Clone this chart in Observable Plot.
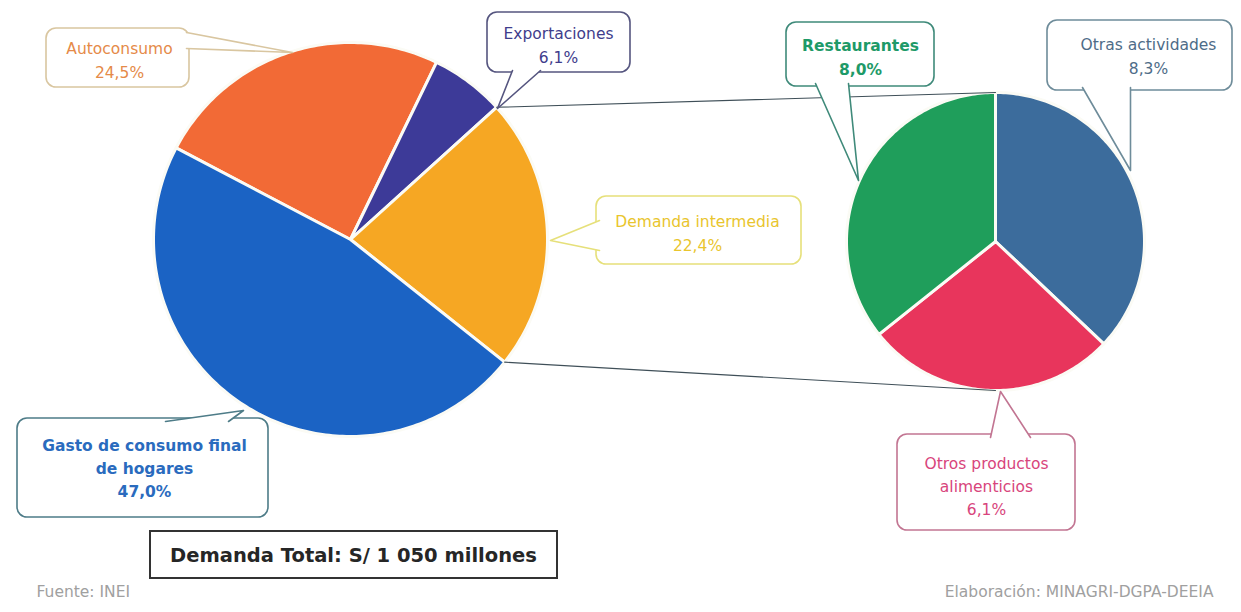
<!DOCTYPE html>
<html>
<head>
<meta charset="utf-8">
<script src="https://cdn.jsdelivr.net/npm/d3@7"></script>
<script src="https://cdn.jsdelivr.net/npm/@observablehq/plot@0.6"></script>
<style>
  html, body { margin: 0; padding: 0; background: #fff; }
  #chart svg { display: block; }
</style>
</head>
<body>
<div id="chart"></div>
<script>
// ---- Data ----
const mainCategories = ["Autoconsumo", "Exportaciones", "Demanda intermedia", "Gasto de consumo final de hogares"];
const mainLabels = ["Autoconsumo", "Exportaciones", "Demanda intermedia", "Gasto de consumo final\nde hogares"];
const mainValues = [24.5, 6.1, 22.4, 47.0];

const subCategories = ["Otras actividades", "Otros productos alimenticios", "Restaurantes"];
const subLabels = ["Otras actividades", "Otros productos\nalimenticios", "Restaurantes"];
const subValues = [8.3, 6.1, 8.0];

const totalLabel = "Demanda Total: S/ 1 050 millones";
const sourceText = "Fuente: INEI";
const creditText = "Elaboración: MINAGRI-DGPA-DEEIA";

// ---- Styles / layout ----
const W = 1241, H = 612;
const FONT = "'DejaVu Sans', sans-serif";
const colors = {
  "Autoconsumo": "#F26A36",
  "Exportaciones": "#3D3A98",
  "Demanda intermedia": "#F6A723",
  "Gasto de consumo final de hogares": "#1B63C4",
  "Otras actividades": "#3C6C9C",
  "Otros productos alimenticios": "#E8355C",
  "Restaurantes": "#1F9E5B"
};
const mainPie = {cx: 350, cy: 239, r: 197, start: -62.3};
const subPie = {cx: 995, cy: 241, r: 149, start: 0};

const callouts = {
  "Autoconsumo": {x1: 46, y1: 28, x2: 189, y2: 87, tail: [[186, 32], [292, 52], [186, 48]], tx: 119, ty: 58, text: "#E58A48", border: "#D9C6A0", weight: "normal"},
  "Exportaciones": {x1: 487, y1: 12, x2: 630, y2: 72, tail: [[512, 70], [497, 108], [540, 70]], tx: 558, ty: 43, text: "#3F3D8C", border: "#55557F", weight: "normal"},
  "Demanda intermedia": {x1: 596, y1: 196, x2: 801, y2: 264, tail: [[599, 220], [550, 240], [599, 250]], tx: 697, ty: 231, text: "#E9C52E", border: "#E6E07A", weight: "normal"},
  "Gasto de consumo final de hogares": {x1: 17, y1: 418, x2: 268, y2: 517, tail: [[165, 421], [243, 410], [228, 421]], tx: 144, ty: 466, text: "#2A6BBE", border: "#4E7C88", weight: "bold"},
  "Restaurantes": {x1: 786, y1: 22, x2: 934, y2: 86, tail: [[815, 83], [858, 180], [848, 83]], tx: 860, ty: 55, text: "#1E9A68", border: "#3F8A7A", weight: "bold"},
  "Otras actividades": {x1: 1047, y1: 20, x2: 1232, y2: 90, tail: [[1082, 87], [1130, 170], [1130, 87]], tx: 1148, ty: 54, text: "#4E6C88", border: "#6E8C9A", weight: "normal"},
  "Otros productos alimenticios": {x1: 897, y1: 434, x2: 1075, y2: 530, tail: [[990, 437], [1000, 391], [1030, 437]], tx: 986, ty: 484, text: "#D8457C", border: "#C27592", weight: "normal"}
};

const fmtPct = v => v.toFixed(1).replace(".", ",") + "%";
const rad = Math.PI / 180;

function pieRows(cats, vals, c) {
  const arcs = d3.pie().sort(null).value(d => d)
    .startAngle(c.start * rad).endAngle(c.start * rad + 2 * Math.PI)(vals);
  const rows = [];
  arcs.forEach((a, i) => {
    const cat = cats[i];
    rows.push({cat, x: c.cx, y: c.cy});
    const n = Math.max(2, Math.ceil((a.endAngle - a.startAngle) / rad));
    for (let k = 0; k <= n; k++) {
      const t = a.startAngle + (a.endAngle - a.startAngle) * k / n;
      rows.push({cat, x: c.cx + c.r * Math.sin(t), y: c.cy - c.r * Math.cos(t)});
    }
    rows.push({cat, x: c.cx, y: c.cy});
  });
  return {rows, arcs};
}

const main = pieRows(mainCategories, mainValues, mainPie);
const sub = pieRows(subCategories, subValues, subPie);

// connector lines from the "Demanda intermedia" slice to the secondary pie
const di = main.arcs[mainCategories.indexOf("Demanda intermedia")];
const pt = (c, a) => ({x: c.cx + c.r * Math.sin(a), y: c.cy - c.r * Math.cos(a)});
const subStart = sub.arcs[0].startAngle;
const connectors = [
  {id: "top", ...pt(mainPie, di.startAngle)}, {id: "top", ...pt(subPie, subStart)},
  {id: "bot", ...pt(mainPie, di.endAngle)}, {id: "bot", ...pt(subPie, subStart + Math.PI)}
];

const allCats = [...mainCategories, ...subCategories];
const allLabels = [...mainLabels, ...subLabels];
const allValues = [...mainValues, ...subValues];

const marks = [];
marks.push(Plot.line(main.rows, {x: "x", y: "y", z: "cat", fill: "cat", stroke: "#fbfbf5", strokeWidth: 3, strokeLinejoin: "round"}));
marks.push(Plot.line(sub.rows, {x: "x", y: "y", z: "cat", fill: "cat", stroke: "#fbfbf5", strokeWidth: 3, strokeLinejoin: "round"}));
marks.push(Plot.line(connectors, {x: "x", y: "y", z: "id", stroke: "#3f4f58", strokeWidth: 1.1}));

allCats.forEach((cat, i) => {
  const b = callouts[cat];
  marks.push(Plot.rect([b], {x1: "x1", x2: "x2", y1: "y1", y2: "y2", fill: "white", stroke: b.border, strokeWidth: 1.6, rx: 10}));
  marks.push(Plot.line(b.tail.map(([x, y]) => ({x, y})), {x: "x", y: "y", fill: "white", stroke: b.border, strokeWidth: 1.6}));
  marks.push(Plot.text([{x: b.tx, y: b.ty, t: allLabels[i] + "\n" + fmtPct(allValues[i])}], {
    x: "x", y: "y", text: "t", fill: b.text, fontSize: 15.5, fontWeight: b.weight,
    fontFamily: FONT, lineHeight: 1.5
  }));
});

// total box
marks.push(Plot.rect([{x1: 150, x2: 557, y1: 531, y2: 578}], {x1: "x1", x2: "x2", y1: "y1", y2: "y2", fill: "white", stroke: "#333", strokeWidth: 2}));
marks.push(Plot.text([totalLabel], {x: 353, y: 555, text: d => d, fontSize: 19.5, fontWeight: "bold", fill: "#262626", fontFamily: FONT}));

// footer
marks.push(Plot.text([sourceText], {x: 36, y: 592, text: d => d, textAnchor: "start", fontSize: 15.5, fill: "#a0a0a0", fontFamily: FONT}));
marks.push(Plot.text([creditText], {x: 1213, y: 592, text: d => d, textAnchor: "end", fontSize: 15.5, fill: "#a0a0a0", fontFamily: FONT}));

const chart = Plot.plot({
  width: W, height: H,
  margin: 0,
  x: {domain: [0, W], range: [0, W], axis: null},
  y: {domain: [0, H], range: [0, H], axis: null},
  color: {domain: allCats, range: allCats.map(c => colors[c])},
  style: {background: "white"},
  marks
});
document.getElementById("chart").appendChild(chart);
</script>
</body>
</html>
